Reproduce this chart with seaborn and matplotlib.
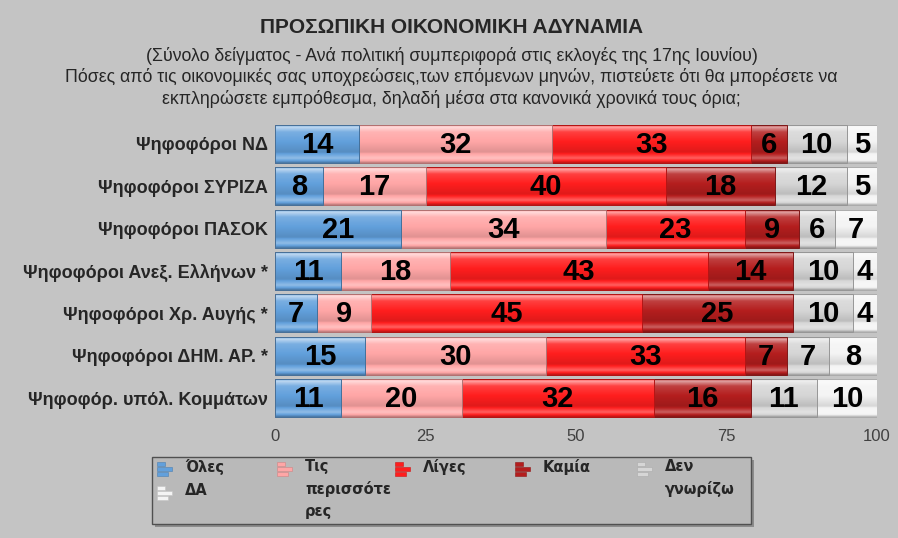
import numpy as np
import pandas as pd
import matplotlib
matplotlib.use("Agg")
import matplotlib.pyplot as plt
import matplotlib.colors as mcolors
from matplotlib.patches import Rectangle
import seaborn as sns

# --- data ---
groups = ["Ψηφοφόροι ΝΔ", "Ψηφοφόροι ΣΥΡΙΖΑ", "Ψηφοφόροι ΠΑΣΟΚ",
          "Ψηφοφόροι Ανεξ. Ελλήνων *", "Ψηφοφόροι Χρ. Αυγής *",
          "Ψηφοφόροι ΔΗΜ. ΑΡ. *", "Ψηφοφόρ. υπόλ. Κομμάτων"]
answers = ["Όλες", "Τις περισσότερες", "Λίγες", "Καμία", "Δεν γνωρίζω", "ΔΑ"]
oles = [14, 8, 21, 11, 7, 15, 11]
perissoteres = [32, 17, 34, 18, 9, 30, 20]
liges = [33, 40, 23, 43, 45, 33, 32]
kamia = [6, 18, 9, 14, 25, 7, 16]
den_gnorizo = [10, 12, 6, 10, 10, 7, 11]
da = [5, 5, 7, 4, 4, 8, 10]
xticks = [0, 25, 50, 75, 100]

colors = ["#62a0dc", "#ffa6a6", "#ff1e1e", "#b41e1e", "#d6d6d6", "#f4f4f4"]
legend_labels = ["Όλες", "Τις\nπερισσότε\nρες", "Λίγες", "Καμία", "Δεν\nγνωρίζω", "ΔΑ"]

df = pd.DataFrame(dict(zip(answers, [oles, perissoteres, liges, kamia, den_gnorizo, da])),
                  index=groups)
cum = df.cumsum(axis=1)

W, H = 898, 538
BG = "#c4c4c4"
sns.set_style("white")
plt.rcParams["font.family"] = ["Liberation Sans", "DejaVu Sans"]

fig = plt.figure(figsize=(W / 100, H / 100), dpi=100, facecolor=BG)
ax = fig.add_axes([275 / W, 1 - 419.2 / H, 602 / W, 296.4 / H], facecolor=BG)


def fx(px):
    return px / W


def fy(py):
    return 1 - py / H


# stacked bars: draw cumulative totals from the longest down
for i in range(len(answers) - 1, -1, -1):
    sns.barplot(x=cum.iloc[:, i].values, y=groups, orient="h", color=colors[i],
                saturation=1, width=0.9, ax=ax, edgecolor="none")


def gloss(base):
    c = np.array(mcolors.to_rgb(base))
    stops = [(0.0, -0.25), (0.07, 0.6), (0.2, 0.15), (0.45, 0.0),
             (0.72, -0.12), (0.88, 0.3), (1.0, -0.25)]
    t = np.linspace(0, 1, 64)
    f = np.interp(t, [s[0] for s in stops], [s[1] for s in stops])
    rows = []
    for v in f:
        if v >= 0:
            rows.append(c + (1 - c) * v)
        else:
            rows.append(c * (1 + v))
    return np.array(rows)[:, None, :]


n = len(groups)
patches = list(ax.patches)
for k, p in enumerate(patches):
    base = mcolors.to_hex(p.get_facecolor())
    x0, y0, w, h = p.get_x(), p.get_y(), p.get_width(), p.get_height()
    im = ax.imshow(gloss(base), extent=(x0, x0 + w, y0 + h, y0), origin="upper",
                   aspect="auto", interpolation="bilinear", zorder=0.5)
    im.set_clip_path(p)
    dark = np.array(mcolors.to_rgb(base)) * 0.7
    p.set_facecolor("none")
    p.set_edgecolor(dark)
    p.set_linewidth(0.7)
    p.set_zorder(1)

# value labels centred in each segment
for r, g in enumerate(groups):
    for i, a in enumerate(answers):
        v = df.loc[g, a]
        center = cum.loc[g, a] - v / 2
        ax.text(center, r + 0.02, f"{v}", ha="center", va="center", fontsize=21,
                fontweight="bold", color="black", zorder=3)

ax.set_xlim(0, 100)
ax.set_ylim(n - 0.5, -0.5)
ax.set_xticks(xticks)
ax.set_xticklabels([str(t) for t in xticks])
ax.tick_params(axis="x", length=0, pad=7, labelsize=12, labelcolor="#404040")
ax.tick_params(axis="y", length=0, pad=5, labelsize=13)
for lab in ax.get_yticklabels():
    lab.set_fontweight("bold")
ax.set_xlabel("")
ax.set_ylabel("")
sns.despine(ax=ax, left=True, bottom=True)

# titles
fig.text(0.503, fy(28), "ΠΡΟΣΩΠΙΚΗ ΟΙΚΟΝΟΜΙΚΗ ΑΔΥΝΑΜΙΑ", ha="center", va="center",
         fontsize=15, fontweight="bold")
subs = ["(Σύνολο δείγματος - Ανά πολιτική συμπεριφορά στις εκλογές της 17ης Ιουνίου)",
        "Πόσες από τις οικονομικές σας υποχρεώσεις,των επόμενων μηνών, πιστεύετε ότι θα μπορέσετε να",
        "εκπληρώσετε εμπρόθεσμα, δηλαδή μέσα στα κανονικά χρονικά τους όρια;"]
for s, yy in zip(subs, [56, 77, 99]):
    fig.text(0.503, fy(yy), s, ha="center", va="center", fontsize=12.8)

# legend box
fig.patches.append(Rectangle((fx(155), fy(527)), fx(599), 67 / H, transform=fig.transFigure,
                             facecolor="#8c8c8c", edgecolor="none", zorder=1))
fig.patches.append(Rectangle((fx(152), fy(524)), fx(599), 67 / H, transform=fig.transFigure,
                             facecolor="#b9b9b9", edgecolor="#505050", linewidth=1, zorder=2))

leg_pos = [(157, 462), (277, 462), (395, 462), (515, 462), (637, 462), (157, 486)]
for (hx, hy), col, lab in zip(leg_pos, colors, legend_labels):
    dk = np.array(mcolors.to_rgb(col)) * 0.8
    for dy, bw in [(0, 8), (5, 15), (10, 11)]:
        fig.patches.append(Rectangle((fx(hx), fy(hy + dy + 4)), fx(bw), 4 / H,
                                     transform=fig.transFigure, facecolor=col,
                                     edgecolor=dk, linewidth=0.4, zorder=3))
    fig.text(fx(hx + 28), fy(hy - 3), lab, ha="left", va="top", fontsize=10.5,
             fontweight="bold", linespacing=1.55, family=["DejaVu Sans"], zorder=4)

fig.savefig("out.png", dpi=100, facecolor=BG)
